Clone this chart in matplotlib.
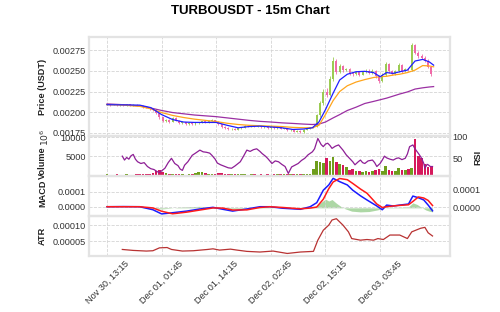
import numpy as np
import matplotlib.pyplot as plt
from matplotlib.ticker import FormatStrFormatter

plt.rcParams['font.family'] = ['Liberation Sans', 'DejaVu Sans']

# Bougies (une sur trois, index en pas de 15m), prix en 1e-5 USDT
candle_idx = list(range(0, 300, 3))
opens = [
    209.0, 209.5, 208.6, 209.8, 208.4, 209.4, 208.3, 209.5, 208.4, 209.2,
    208.0, 207.8, 206.0, 205.8, 203.6, 202.8, 198.5, 193.5, 189.0, 190.5,
    188.2, 193.2, 189.8, 187.0, 187.8, 185.6, 187.4, 185.4, 186.9, 187.3,
    188.8, 187.2, 189.8, 190.4, 188.6, 185.0, 182.2, 181.2, 179.6, 180.0,
    178.6, 180.2, 181.0, 183.2, 182.6, 183.8, 182.4, 183.4, 181.8, 182.6,
    180.8, 182.0, 180.6, 181.8, 179.8, 180.2, 178.2, 178.4, 176.4, 177.2,
    175.8, 178.8, 179.6, 181.6, 182.0, 196.0, 211.0, 225.0, 221.0, 240.0,
    262.0, 249.0, 256.0, 251.5, 252.0, 247.5, 246.0, 248.5, 245.5, 248.5,
    250.5, 248.0, 250.5, 244.0, 238.0, 245.0, 258.0, 250.0, 246.5, 250.0,
    257.5, 250.0, 252.0, 251.0, 281.0, 272.0, 268.5, 266.0, 262.5, 255.0,
]
closes = [
    209.5, 208.6, 209.8, 208.4, 209.4, 208.3, 209.5, 208.4, 209.2, 208.0,
    207.8, 206.0, 205.8, 203.6, 202.8, 198.5, 193.5, 189.0, 190.5, 188.2,
    193.2, 189.8, 187.0, 187.8, 185.6, 187.4, 185.4, 186.9, 187.3, 188.8,
    187.2, 189.8, 190.4, 188.6, 185.0, 182.2, 181.2, 179.6, 180.0, 178.6,
    180.2, 181.0, 183.2, 182.6, 183.8, 182.4, 183.4, 181.8, 182.6, 180.8,
    182.0, 180.6, 181.8, 179.8, 180.2, 178.2, 178.4, 176.4, 177.2, 175.8,
    178.8, 179.6, 181.6, 182.0, 196.0, 211.0, 225.0, 221.0, 240.0, 262.0,
    249.0, 256.0, 251.5, 252.0, 247.5, 246.0, 248.5, 245.5, 248.5, 250.5,
    248.0, 250.5, 244.0, 238.0, 245.0, 258.0, 250.0, 246.5, 250.0, 257.5,
    250.0, 252.0, 251.0, 281.0, 272.0, 268.5, 266.0, 262.5, 255.0, 246.5,
]
highs = [
    210.2, 210.0, 210.4, 210.2, 209.9, 209.8, 210.1, 209.9, 209.8, 209.6,
    208.7, 208.2, 206.9, 206.3, 204.4, 203.4, 199.2, 194.3, 191.6, 191.2,
    194.4, 193.9, 190.4, 188.7, 188.4, 188.3, 188.0, 187.8, 188.3, 189.6,
    189.5, 190.6, 191.3, 191.0, 189.2, 185.7, 183.0, 181.9, 180.9, 180.6,
    181.0, 181.8, 184.0, 184.0, 184.6, 184.4, 184.2, 184.0, 183.4, 183.2,
    182.8, 182.6, 182.6, 182.3, 181.0, 180.8, 179.3, 179.0, 178.0, 177.8,
    179.6, 180.5, 182.4, 183.0, 198.0, 214.0, 228.5, 229.0, 243.5, 267.0,
    264.0, 259.0, 257.5, 254.0, 253.5, 249.0, 250.0, 249.5, 250.0, 252.0,
    252.0, 252.0, 251.5, 245.5, 247.0, 261.0, 259.5, 251.5, 251.5, 260.0,
    258.5, 253.5, 254.0, 284.0, 283.0, 274.0, 270.5, 268.0, 264.0, 256.5,
]
lows = [
    208.6, 208.0, 208.2, 207.9, 208.0, 207.8, 207.9, 207.7, 207.9, 207.4,
    206.9, 205.2, 204.9, 202.8, 201.5, 197.2, 191.8, 187.6, 188.1, 187.2,
    187.6, 188.7, 185.9, 186.2, 184.6, 184.9, 184.5, 184.8, 186.0, 186.6,
    186.3, 186.7, 189.0, 187.7, 184.0, 181.2, 180.1, 178.7, 178.8, 177.8,
    178.0, 179.6, 180.4, 181.9, 182.0, 181.7, 181.8, 181.1, 181.1, 180.0,
    180.1, 179.8, 179.9, 179.0, 179.0, 177.4, 177.4, 175.6, 175.7, 175.0,
    175.2, 178.1, 179.0, 180.9, 181.5, 194.5, 209.0, 218.0, 219.5, 238.0,
    246.0, 247.0, 249.0, 249.5, 245.5, 244.0, 244.5, 244.0, 244.5, 247.0,
    246.5, 246.5, 242.0, 235.5, 236.5, 243.5, 248.0, 244.5, 245.0, 248.5,
    248.0, 248.5, 249.5, 250.0, 270.0, 266.0, 264.0, 260.5, 253.0, 244.0,
]
volumes = [
    300, 250, 200, 350, 200, 250, 300, 200, 250, 300,
    350, 400, 300, 450, 700, 1100, 1400, 900, 600, 500,
    400, 350, 300, 300, 250, 300, 350, 550, 800, 900,
    600, 500, 450, 400, 700, 600, 400, 350, 300, 300,
    300, 350, 300, 250, 300, 300, 250, 300, 250, 300,
    250, 300, 350, 300, 300, 400, 450, 350, 300, 350,
    400, 300, 350, 1800, 3900, 3500, 3300, 4500, 3700, 4900,
    3600, 3000, 2800, 2200, 1500, 1600, 1300, 1100, 1000, 1200,
    1000, 1100, 1500, 1700, 1300, 2400, 1500, 1300, 1100, 2000,
    1500, 1400, 1700, 2000, 9400, 5200, 4500, 3000, 2200, 2600,
]

# Moyennes mobiles
ma_idx = [0, 15, 30, 40, 50, 60, 70, 80, 90, 100, 110, 120, 130, 140, 150, 160, 170, 180,
          188, 194, 200, 207, 213, 220, 228, 236, 244, 250, 256, 262, 268, 275, 282, 289, 295, 299]
ma_fast = [209, 208.8, 208.5, 205.5, 197, 191, 188, 187.5, 187.5, 187.5, 184, 181, 182.5, 183,
           182, 181, 179, 179.5, 181, 188, 203, 223, 239, 246, 249, 249.5, 248, 243, 248, 247,
           249, 251, 262, 264, 261, 257]
ma_mid = [209, 208.5, 207, 204, 199.5, 196, 193.5, 191.5, 190, 188.5, 186.5, 185, 184, 183.5,
          183, 182.5, 181.5, 181, 181, 184, 197, 214, 225, 232, 236.5, 239.5, 242, 243, 243.5,
          245, 246, 248, 251, 256.5, 256, 255]
ma_slow = [210, 209, 207.5, 205, 202, 199.5, 198, 196.5, 195.5, 194.5, 193, 191.5, 190, 188.8,
           188, 187, 186.3, 185.5, 185, 185.5, 188, 193, 197, 202, 206, 210.5, 213, 215, 217,
           219.5, 222, 224.5, 228, 229.5, 230.5, 231]

# RSI
rsi_idx = [14, 16, 18, 20, 22, 24, 26, 28, 31, 34, 37, 40, 43, 46, 48, 50, 53, 56, 59, 62, 65,
           67, 69, 71, 74, 78, 81, 85, 88, 91, 94, 96, 99, 101, 104, 108, 111, 114, 117, 120,
           122, 125, 128, 131, 134, 137, 140, 142, 145, 147, 149, 151, 154, 157, 160, 163, 166,
           169, 172, 175, 178, 181, 184, 188, 190, 193, 196, 198, 200, 202, 204, 206, 209, 212,
           214, 216, 219, 222, 225, 227, 230, 232, 234, 236, 239, 243, 245, 247, 250, 252, 254,
           256, 259, 262, 265, 267, 270, 273, 275, 277, 280, 282, 284, 286, 288, 290, 291, 293,
           294, 296, 298]
rsi = [55, 46, 52, 48, 56, 59, 48, 42, 38, 40, 31, 26, 24, 19, 17, 21, 27, 40, 50, 38, 33,
       25, 22, 34, 42, 57, 62, 69, 65, 64, 62, 57, 48, 39, 35, 31, 28, 27, 32, 38,
       42, 55, 69, 66, 70, 72, 66, 61, 55, 50, 44, 38, 44, 42, 36, 31, 15,
       30, 34, 38, 45, 50, 58, 65, 72, 96, 82, 77, 83, 85, 80, 73, 78, 81,
       75, 69, 58, 50, 42, 35, 42, 46, 40, 38, 44, 46, 40, 31, 38, 46, 55,
       51, 48, 46, 50, 51, 47, 50, 60, 77, 81, 72, 65, 58, 50, 38, 27, 36,
       35, 31, 31]

# MACD
macd_idx = [0, 15, 30, 42, 50, 60, 73, 85, 97, 106, 115, 128, 140, 149, 161, 177, 186, 192, 198,
            203, 207, 213, 220, 225, 232, 238, 247, 252, 256, 262, 268, 276, 280, 285, 290, 294, 298]
macd_line = [0, 1, 0, -20, -48, -40, -29, -15, -4, -17, -29, -15, 0, 0, -10, -17, 0, 27, 110,
             145, 189, 167, 145, 110, 73, 45, 5, -20, 11, 5, 11, 18, 71, 60, 45, 11, -27]
signal_line = [0, 0, 0, -8, -30, -47, -36, -22, -8, -9, -22, -21, -5, 0, -5, -14, -9, -2, 50,
               120, 165, 188, 180, 155, 118, 90, 18, -5, 0, 5, 9, 13, 35, 65, 58, 42, 8]
hist_idx = [0, 30, 42, 50, 58, 66, 75, 85, 95, 104, 112, 120, 130, 140, 150, 160, 172, 182, 188,
            192, 196, 200, 203, 206, 210, 214, 218, 224, 232, 240, 247, 252, 256, 262, 270, 276,
            280, 284, 288, 292, 295, 298]
hist = [0, 0, -4, -6, -2, 3, 6, 8, 5, 0, -5, -6, 0, 4, 2, -2, -3, -2, 3, 10, 30, 47, 37, 45,
        25, 8, -5, -18, -22, -20, -12, -5, 2, 2, 3, 6, 27, 18, 2, -12, -18, -22]

# ATR
atr_idx = [14, 24, 36, 42, 48, 55, 59, 69, 79, 92, 97, 103, 113, 119, 128, 140, 152, 165, 177,
           189, 193, 198, 203, 206, 210, 216, 221, 224, 232, 238, 244, 248, 253, 259, 268, 275,
           279, 287, 291, 294, 298]
atr = [24, 21, 19, 20, 29, 30, 24, 19, 20, 24, 26, 22, 25, 22, 18, 16, 19, 11.5, 16,
       18, 53, 84, 100, 116, 120, 100, 79, 58, 53, 55, 53, 58, 55, 69, 69, 58,
       79, 90, 93, 76, 66]

xtick_pos = [0, 50, 100, 150, 200, 250]
xtick_labels = ['Nov 30, 13:15', 'Dec 01, 01:45', 'Dec 01, 14:15',
                'Dec 02, 02:45', 'Dec 02, 15:15', 'Dec 03, 03:45']

up_candle, down_candle = '#9ccb52', '#f06aa8'
up_vol, down_vol = '#6f9e1c', '#d6195c'

o = np.array(opens) * 1e-5
c = np.array(closes) * 1e-5
up = c >= o
candle_colors = np.where(up, up_candle, down_candle)

fig = plt.figure(figsize=(5, 3.12), dpi=100)
ax1 = fig.add_axes([0.178, 0.564, 0.722, 0.317])
ax2 = fig.add_axes([0.178, 0.4375, 0.722, 0.1265], sharex=ax1)
ax3 = fig.add_axes([0.178, 0.309, 0.722, 0.1285], sharex=ax1)
ax4 = fig.add_axes([0.178, 0.179, 0.722, 0.130], sharex=ax1)

for ax in [ax1, ax2, ax3, ax4]:
    ax.set_facecolor('white')
    for s in ax.spines.values():
        s.set_color('#e3e3e3')
        s.set_linewidth(1.6)
    ax.grid(True, linestyle='--', color='#d4d4d4', linewidth=0.6)
    ax.tick_params(length=0, labelsize=6.6, colors='#333333', pad=2)
    ax.set_axisbelow(True)

# prix
ax1.vlines(candle_idx, np.array(lows) * 1e-5, np.array(highs) * 1e-5,
           colors=candle_colors, lw=0.6)
ax1.bar(candle_idx, c - o, bottom=o, width=1.8, color=candle_colors, linewidth=0)
ax1.plot(ma_idx, np.array(ma_slow) * 1e-5, color='#9b30a3', lw=0.9)
ax1.plot(ma_idx, np.array(ma_mid) * 1e-5, color='#ffa51c', lw=0.9)
ax1.plot(ma_idx, np.array(ma_fast) * 1e-5, color='#1f1fff', lw=0.9)
ax1.set_ylim(0.00171, 0.00291)
ax1.set_yticks([0.00175, 0.002, 0.00225, 0.0025, 0.00275])
ax1.yaxis.set_major_formatter(FormatStrFormatter('%.5f'))
ax1.set_xlim(-16.5, 314)

# volume + RSI
ax2.bar(candle_idx, volumes, width=2.4, color=np.where(up, up_vol, down_vol))
ax2.set_ylim(0, 10300)
ax2.set_yticks([5000, 10000])
ax2r = ax2.twinx()
ax2r.plot(rsi_idx, rsi, color='#8e1f96', lw=0.9)
ax2r.set_ylim(10.2, 101.6)
ax2r.set_yticks([50, 100])

# MACD
ax3.plot(macd_idx, np.array(macd_line) * 1e-6, color='#1a1aff', lw=1.1)
ax3.plot(macd_idx, np.array(signal_line) * 1e-6, color='#ff1a1a', lw=1.1)
ax3.set_ylim(-5.9e-5, 2.08e-4)
ax3.set_yticks([0, 1e-4])
ax3.yaxis.set_major_formatter(FormatStrFormatter('%.4f'))
ax3r = ax3.twinx()
ax3r.fill_between(hist_idx, 0, np.array(hist) * 1e-6, color='#9fd196', alpha=0.85, lw=0)
ax3r.set_ylim(-4.2e-5, 1.75e-4)
ax3r.set_yticks([0, 1e-4])
ax3r.yaxis.set_major_formatter(FormatStrFormatter('%.4f'))
ax3.set_zorder(ax3r.get_zorder() + 1)
ax3.patch.set_visible(False)

# ATR
ax4.plot(atr_idx, np.array(atr) * 1e-6, color='#b83232', lw=0.9)
ax4.set_ylim(3.1e-6, 1.297e-4)
ax4.set_yticks([5e-5, 1e-4])
ax4.yaxis.set_major_formatter(FormatStrFormatter('%.5f'))

for axr in [ax2r, ax3r]:
    axr.tick_params(length=0, labelsize=6.6, colors='#333333', pad=2)
    for s in axr.spines.values():
        s.set_visible(False)

for ax in [ax1, ax2, ax3]:
    ax.tick_params(labelbottom=False)
ax4.set_xticks(xtick_pos)
ax4.set_xticklabels(xtick_labels, rotation=45)

lab = dict(fontsize=6.6, fontweight='bold', color='#222222')
ax1.set_ylabel('Price (USDT)', **lab)
ax2.set_ylabel('Volume', **lab)
ax3.set_ylabel('MACD', **lab)
ax4.set_ylabel('ATR', **lab)
ax2r.set_ylabel('RSI', **lab)
ax1.yaxis.set_label_coords(-0.116, 0.5)
ax2.yaxis.set_label_coords(-0.116, 0.32)
ax3.yaxis.set_label_coords(-0.116, 0.55)
ax4.yaxis.set_label_coords(-0.116, 0.5)
ax2r.yaxis.set_label_coords(1.065, 0.47)

fig.text(45 / 500, 1 - 137 / 312, r'$10^6$', rotation=90, fontsize=6.6,
         ha='center', va='center', color='#333333')
fig.suptitle('TURBOUSDT - 15m Chart', fontsize=9.5, fontweight='bold', y=0.985)

plt.savefig('out.png', dpi=100)
